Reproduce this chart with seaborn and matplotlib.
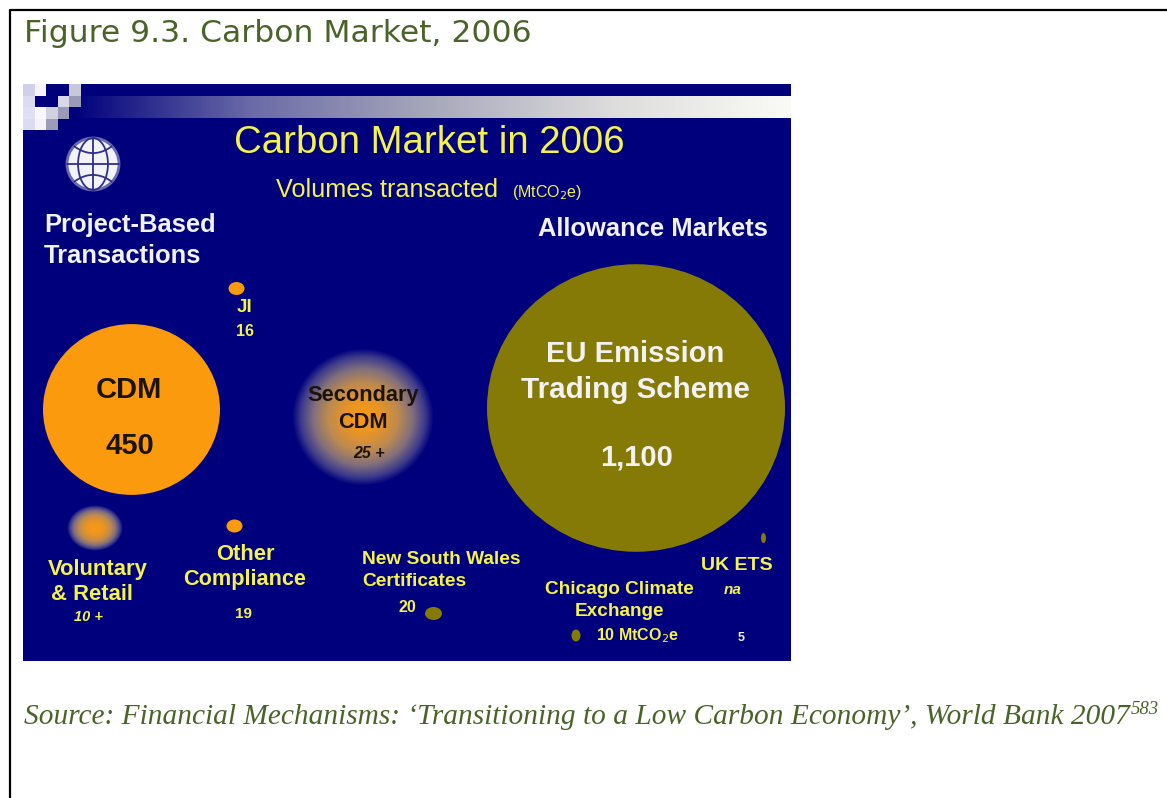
import numpy as np
import pandas as pd
import matplotlib
matplotlib.use('Agg')
import matplotlib.pyplot as plt
from matplotlib.patches import Ellipse, Rectangle, Circle
from matplotlib.path import Path
from matplotlib.transforms import Affine2D
from matplotlib.colors import LinearSegmentedColormap
import seaborn as sns

# values, in image pixels
names = ['CDM', 'EU Emission Trading Scheme']
volumes = [450, 1100]
bubble_x = [131.5, 636]
bubble_y = [409.5, 408]
bubble_d = [177, 298]
bubble_kind = ['orange', 'olive']

small_names = ['JI', 'Other Compliance', 'New South Wales Certificates', 'Chicago Climate Exchange', 'UK ETS']
small_x = [236.5, 234.5, 433.5, 576, 763.5]
small_y = [288.5, 526, 613.5, 635.5, 538]
small_w = [16, 16, 17, 9, 5]
small_h = [13, 13, 13, 12, 10]
small_kind = ['orange', 'orange', 'olive', 'olive', 'olive']

glow_names = ['Secondary CDM', 'Voluntary & Retail']
glow_x = [363, 95]
glow_y = [417, 528]
glow_rx = [71, 28]
glow_ry = [69, 23]
glow_power = [1.0, 1.25]

orange = '#fb9a0c'
olive = '#857a05'
navy = '#00007c'
yellow = '#f4f24c'
green = '#4a6329'
colors = {'orange': orange, 'olive': olive}

sns.set_theme(style='white')
plt.rcParams['font.family'] = ['Liberation Sans', 'DejaVu Sans']

fig = plt.figure(figsize=(11.67, 7.98), dpi=100)
ax = fig.add_axes([0, 0, 1, 1])
ax.axis('off')

# page frame
ax.plot([9.5, 9.5, 1167], [798, 9.5, 9.5], color='black', lw=1.6, zorder=1)

# slide background and header band
ax.add_patch(Rectangle((23, 84), 768, 577, color=navy, lw=0, zorder=1))
band = LinearSegmentedColormap.from_list('band', [navy, '#6b6ba8', '#a8a8bc', '#dcdcdc', '#fbfbf6'])
ax.imshow(np.linspace(0, 1, 256).reshape(1, -1), cmap=band, extent=(72, 791, 118, 96), aspect='auto', zorder=2)

# checker squares in the corner
squares = [(0, 0, '#d0d0ea'), (1, 0, '#f4f4fa'), (4, 0, '#c8c8d8'),
           (0, 1, '#dcdcf0'), (1, 1, navy), (2, 1, navy), (3, 1, '#d8d8e8'), (4, 1, '#9a9ab8'),
           (0, 2, '#e0e0f2'), (1, 2, '#f8f8fc'), (2, 2, '#d0d0e0'), (3, 2, '#9a9ab8'),
           (0, 3, '#dcdcf0'), (1, 3, '#f4f4fa'), (2, 3, '#9c9cb8')]
for col, row, c in squares:
    ax.add_patch(Rectangle((23 + col * 11.5, 84 + row * 11.5), 11.5, 11.5, color=c, lw=0, zorder=3))

# globe logo
gx, gy, gr = 93, 164, 26
line = '#30308a'
ax.add_patch(Circle((gx, gy), gr, fc='#f2f2fa', ec='#6a6ab0', lw=2, zorder=3))
ax.add_patch(Ellipse((gx, gy), gr * 1.15, 2 * gr, fc='none', ec=line, lw=1.3, zorder=4))
ax.plot([gx, gx], [gy - gr, gy + gr], color=line, lw=1.3, zorder=4)
ax.plot([gx - gr, gx + gr], [gy, gy], color=line, lw=1.3, zorder=4)
for sign in [-1, 1]:
    t = np.linspace(-gr * 0.72, gr * 0.72, 40)
    ax.plot(gx + t, gy + sign * gr * (0.42 + 0.5 * (t / gr) ** 2), color=line, lw=1.3, zorder=4)

# big bubbles, a little squashed in the picture
df = pd.DataFrame({'x': bubble_x, 'y': bubble_y, 'd': bubble_d, 'kind': bubble_kind, 'name': names, 'volume': volumes})
sizes = {d: (d * 0.72) ** 2 for d in bubble_d}
squashed = Path.unit_circle().transformed(Affine2D().scale(1, 0.965))
sns.scatterplot(data=df, x='x', y='y', hue='kind', palette=colors, size='d', sizes=sizes,
                marker=squashed, legend=False, linewidth=0, ax=ax, zorder=3)

# small bubbles
for x, y, w, h, k in zip(small_x, small_y, small_w, small_h, small_kind):
    ax.add_patch(Ellipse((x, y), w, h, fc=colors[k], ec='none', zorder=3))

# glowing bubbles, fading out into the background
yy, xx = np.mgrid[-1:1:300j, -1:1:300j]
rr = np.sqrt(xx ** 2 + yy ** 2)
glow = LinearSegmentedColormap.from_list('glow', [(0, '#f99a14'), (0.25, '#e89426'), (0.5, '#bd8a50'),
                                                  (0.7, '#82707c'), (0.88, '#3c3a8c'), (1, navy)])
for x, y, rx, ry, p in zip(glow_x, glow_y, glow_rx, glow_ry, glow_power):
    rgba = glow(np.clip(rr, 0, 1) ** p)
    rgba[..., 3] = np.where(rr > 1, 0, 1)
    ax.imshow(rgba, extent=(x - rx, x + rx, y + ry, y - ry), aspect='auto', zorder=3, interpolation='bilinear')

ax.set_xlim(0, 1167)
ax.set_ylim(798, 0)
ax.set_xlabel('')
ax.set_ylabel('')


def label(x, y, s, size=15.8, color=yellow, weight='bold', style='normal', ha='center'):
    ax.text(x, y + 2, s, fontsize=size, color=color, fontweight=weight, fontstyle=style,
            ha=ha, va='center', zorder=6)


# page text
ax.text(24, 33, 'Figure 9.3. Carbon Market, 2006', fontsize=22.6, color=green, ha='left', va='center',
        family=['DejaVu Sans'], zorder=6)
ax.text(24, 717, 'Source: Financial Mechanisms: ‘Transitioning to a Low Carbon Economy’, World Bank 2007',
        fontsize=21.17, color=green, ha='left', va='center', family=['Liberation Serif'], style='italic', zorder=6)
ax.text(1131, 709, '583', fontsize=13.5, color=green, ha='left', va='center',
        family=['Liberation Serif'], style='italic', zorder=6)

# slide text
label(429, 141, 'Carbon Market in 2006', size=27.6, weight='normal')
label(387, 188, 'Volumes transacted', size=18.2, weight='normal')
label(547, 190, '(MtCO$_2$e)', size=11.5, weight='normal')
label(44, 223, 'Project-Based', size=18.4, color='#f2f2f2', ha='left')
label(44, 254, 'Transactions', size=18.4, color='#f2f2f2', ha='left')
label(653, 227, 'Allowance Markets', size=18.4, color='#f2f2f2')

black = '#1a1408'
label(129, 388, 'CDM', size=21, color=black)
label(130, 444, '450', size=21, color=black)
label(363, 394, 'Secondary', size=15.7, color=black)
label(363, 420, 'CDM', size=15.7, color=black)
label(369, 451, '25 +', size=11.5, color=black, style='italic')

white = '#f2f2f2'
label(635, 352, 'EU Emission', size=21, color=white)
label(635.5, 388, 'Trading Scheme', size=21.3, color=white)
label(637, 455, '1,100', size=21, color=white)

label(245, 305, 'JI', size=13.5)
label(245, 329, '16', size=11.5)
label(97.5, 567, 'Voluntary')
label(92, 593, '& Retail')
label(88, 615, '10 +', size=10.5, style='italic')
label(245, 552, 'Other')
label(245, 578, 'Compliance', size=15.6)
label(243, 612, '19', size=11)
label(441, 557, 'New South Wales', size=13.8)
label(362, 580, 'Certificates', size=13.8, ha='left')
label(407, 605, '20', size=11.5)
label(619, 587, 'Chicago Climate', size=13.7)
label(620, 610, 'Exchange', size=13.7)
label(638, 634, '10 MtCO$_2$e', size=11.5)
label(737, 563, 'UK ETS', size=14)
label(733, 588, 'na', size=11, style='italic')
label(741, 636, '5', size=9, color='#f0f0f0')

fig.savefig('out.png', dpi=100, facecolor='white')
